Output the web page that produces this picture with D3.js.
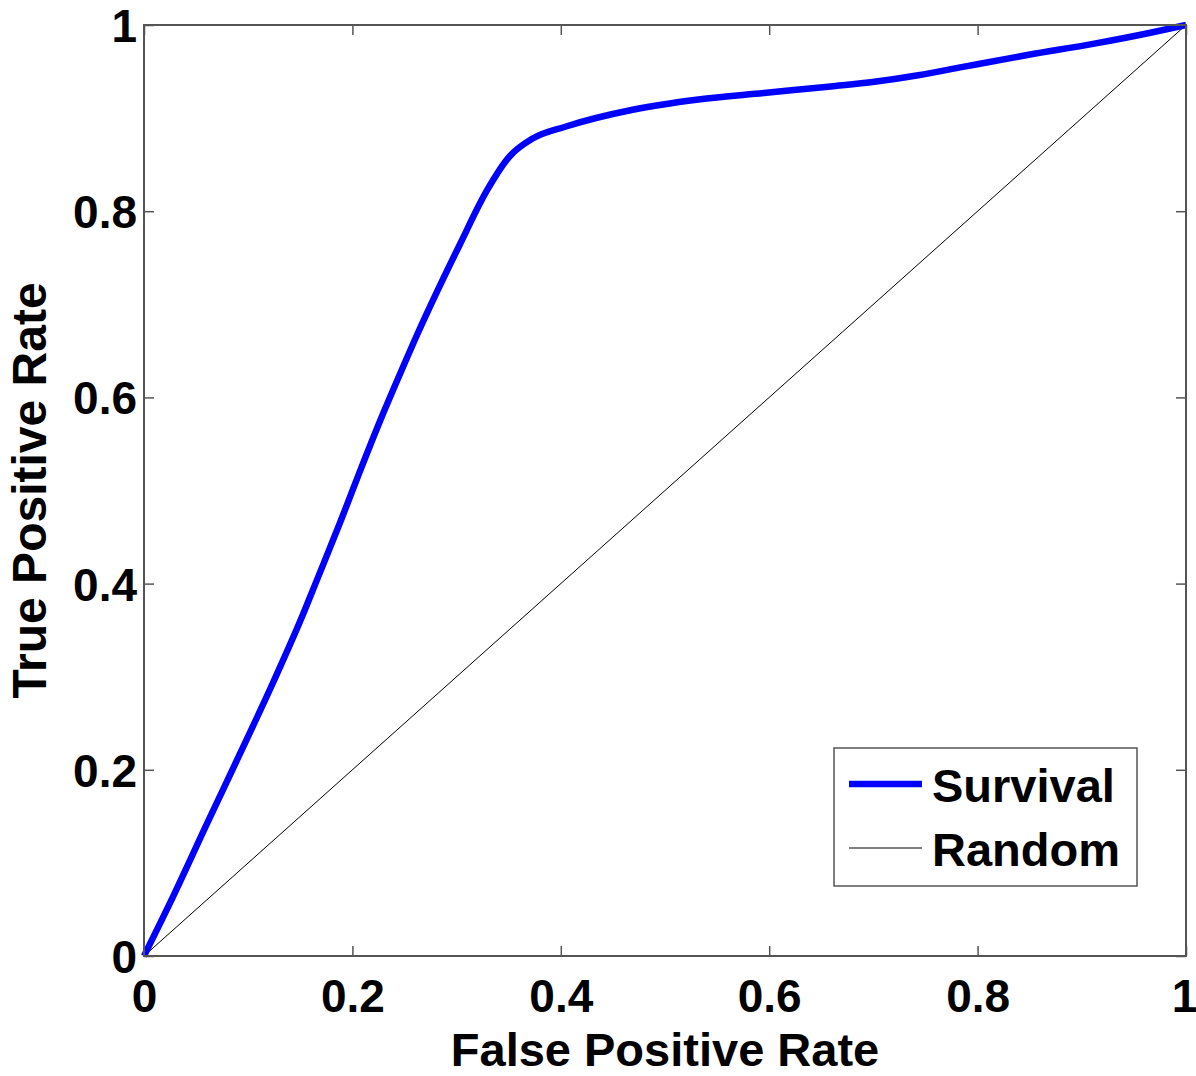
<!DOCTYPE html>
<html>
<head>
<meta charset="utf-8">
<script src="https://cdn.jsdelivr.net/npm/d3@7"></script>
<style>
  html, body { margin: 0; padding: 0; background: #fff; }
  svg { display: block; }
  text { font-family: "Liberation Sans", Arial, Helvetica, sans-serif; font-weight: bold; fill: #000; }
</style>
</head>
<body>
<svg id="chart" width="1196" height="1076"></svg>
<script>
// ---- Data ----
const survivalFPR = [0, 0.028, 0.060, 0.092, 0.124, 0.150, 0.166, 0.188, 0.207, 0.227, 0.246, 0.262, 0.281, 0.303, 0.329, 0.351, 0.373, 0.405, 0.469, 0.532, 0.595, 0.659, 0.701, 0.743, 0.786, 0.849, 0.912, 0.967, 1];
const survivalTPR = [0, 0.064, 0.141, 0.217, 0.294, 0.360, 0.404, 0.465, 0.520, 0.576, 0.626, 0.667, 0.713, 0.764, 0.822, 0.859, 0.878, 0.891, 0.909, 0.920, 0.927, 0.934, 0.939, 0.946, 0.955, 0.968, 0.980, 0.992, 1];
const randomFPR = [0, 1];
const randomTPR = [0, 1];
const tickValues = [0, 0.2, 0.4, 0.6, 0.8, 1];
const seriesNames = ["Survival", "Random"];
const xLabel = "False Positive Rate";
const yLabel = "True Positive Rate";

// ---- Layout ----
const L = 144, R = 1186, T = 25, B = 956;
const svg = d3.select("#chart");
const x = d3.scaleLinear().domain([0, 1]).range([L, R]);
const y = d3.scaleLinear().domain([0, 1]).range([B, T]);
const fmt = d3.format("~g");
const axisColor = "#555";

function styleAxis(g) {
  g.select(".domain").remove();
  g.selectAll(".tick line").attr("stroke", axisColor).attr("stroke-width", 1.5);
  g.selectAll(".tick text").style("font-size", "46px").style("font-family", '"Liberation Sans", Arial, sans-serif').style("font-weight", "bold").attr("fill", "#000");
}

svg.append("g").attr("transform", `translate(0,${B})`)
  .call(d3.axisBottom(x).tickValues(tickValues).tickFormat(fmt).tickSizeInner(-10).tickSizeOuter(0).tickPadding(23))
  .call(styleAxis)
  .call(g => g.selectAll(".tick text").filter(d => d === 1).attr("dx", "-2"));
svg.append("g").attr("transform", `translate(${L},0)`)
  .call(d3.axisLeft(y).tickValues(tickValues).tickFormat(fmt).tickSizeInner(-10).tickSizeOuter(0).tickPadding(7))
  .call(styleAxis)
  .call(g => g.selectAll(".tick text").attr("dy", "0.36em"));
svg.append("g").attr("transform", `translate(0,${T})`)
  .call(d3.axisTop(x).tickValues(tickValues).tickFormat("").tickSizeInner(-10).tickSizeOuter(0))
  .call(styleAxis);
svg.append("g").attr("transform", `translate(${R},0)`)
  .call(d3.axisRight(y).tickValues(tickValues).tickFormat("").tickSizeInner(-10).tickSizeOuter(0))
  .call(styleAxis);

// lines
const line = d3.line().x(d => x(d[0])).y(d => y(d[1])).curve(d3.curveMonotoneX);
const randomData = randomFPR.map((v, i) => [v, randomTPR[i]]);
const survivalData = survivalFPR.map((v, i) => [v, survivalTPR[i]]);

svg.append("path").datum(randomData).attr("d", d3.line().x(d => x(d[0])).y(d => y(d[1])))
  .attr("fill", "none").attr("stroke", "#000").attr("stroke-width", 1);
svg.append("path").datum(survivalData).attr("d", line)
  .attr("fill", "none").attr("stroke", "#0000ff").attr("stroke-width", 6.5)
  .attr("stroke-linejoin", "round");

// box
svg.append("rect").attr("x", L).attr("y", T).attr("width", R - L).attr("height", B - T)
  .attr("fill", "none").attr("stroke", axisColor).attr("stroke-width", 2);

// axis labels
svg.append("text").attr("x", (L + R) / 2).attr("y", 1066).attr("text-anchor", "middle")
  .style("font-size", "47px").text(xLabel);
svg.append("text").attr("transform", `translate(46,${(T + B) / 2}) rotate(-90)`).attr("text-anchor", "middle")
  .style("font-size", "48px").text(yLabel);

// legend
const lg = svg.append("g");
lg.append("rect").attr("x", 834).attr("y", 748).attr("width", 303).attr("height", 138)
  .attr("fill", "#fff").attr("stroke", axisColor).attr("stroke-width", 1.5);
const legendItems = [
  { name: seriesNames[0], color: "#0000ff", width: 6.5, yy: 784 },
  { name: seriesNames[1], color: "#000", width: 1, yy: 848 }
];
legendItems.forEach(it => {
  lg.append("line").attr("x1", 849).attr("x2", 922).attr("y1", it.yy).attr("y2", it.yy)
    .attr("stroke", it.color).attr("stroke-width", it.width);
  lg.append("text").attr("x", 932).attr("y", it.yy + 18).style("font-size", "47px").text(it.name);
});
</script>
</body>
</html>
